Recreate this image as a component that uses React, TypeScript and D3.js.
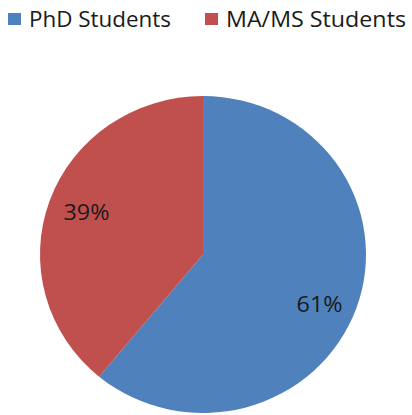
import React, { useEffect, useRef } from "react";
import * as d3 from "d3";

const categories = ["PhD Students", "MA/MS Students"];
const shares = [61, 39];
const colors = ["#4F81BD", "#C0504D"];

const W = 412;
const H = 415;

const App = () => {
  const ref = useRef<SVGSVGElement>(null);

  useEffect(() => {
    const svg = d3.select(ref.current);
    svg.selectAll("*").remove();

    const cx = 203;
    const cy = 254.5;
    const r = 163;
    const squash = 158.5 / 163;
    const labelNudge = [10, -1];

    const pie = d3.pie<number>().sort(null).value((d) => d);
    const arcs = pie(shares);
    const arc = d3.arc<d3.PieArcDatum<number>>().innerRadius(0).outerRadius(r);
    const labelArc = d3
      .arc<d3.PieArcDatum<number>>()
      .innerRadius(r * 0.76)
      .outerRadius(r * 0.76);

    const g = svg
      .append("g")
      .attr("transform", `translate(${cx},${cy}) scale(1,${squash})`);

    g.selectAll("path.slice")
      .data(arcs)
      .join("path")
      .attr("class", "slice")
      .attr("d", arc)
      .attr("fill", (_, i) => colors[i]);

    // labels outside the squashed group so text is not distorted
    svg
      .selectAll("text.pct")
      .data(arcs)
      .join("text")
      .attr("class", "pct")
      .attr("x", (d) => cx + labelArc.centroid(d)[0] - 23)
      .attr("y", (d, i) => cy + labelArc.centroid(d)[1] * squash + 7 + labelNudge[i])
      .attr("font-family", "'Open Sans', sans-serif")
      .attr("font-size", 21)
      .attr("fill", "#1a1a1a")
      .attr("textLength", 46)
      .attr("lengthAdjust", "spacingAndGlyphs")
      .text((d) => `${d.data}%`);

    // legend
    const legendX = [8, 205];
    const leg = svg
      .selectAll("g.leg")
      .data(categories)
      .join("g")
      .attr("class", "leg")
      .attr("transform", (_, i) => `translate(${legendX[i]},0)`);

    leg
      .append("rect")
      .attr("x", 0)
      .attr("y", 13)
      .attr("width", 13)
      .attr("height", 12)
      .attr("fill", (_, i) => colors[i]);

    leg
      .append("text")
      .attr("x", 21)
      .attr("y", 27)
      .attr("font-family", "'Open Sans', sans-serif")
      .attr("font-size", 21)
      .attr("fill", "#1a1a1a")
      .attr("textLength", (_, i) => [142, 180][i])
      .attr("lengthAdjust", "spacingAndGlyphs")
      .text((d) => d);
  }, []);

  return (
    <svg
      ref={ref}
      width={W}
      height={H}
      style={{ position: "absolute", left: 0, top: 0, background: "#fff" }}
    />
  );
};

export default App;
